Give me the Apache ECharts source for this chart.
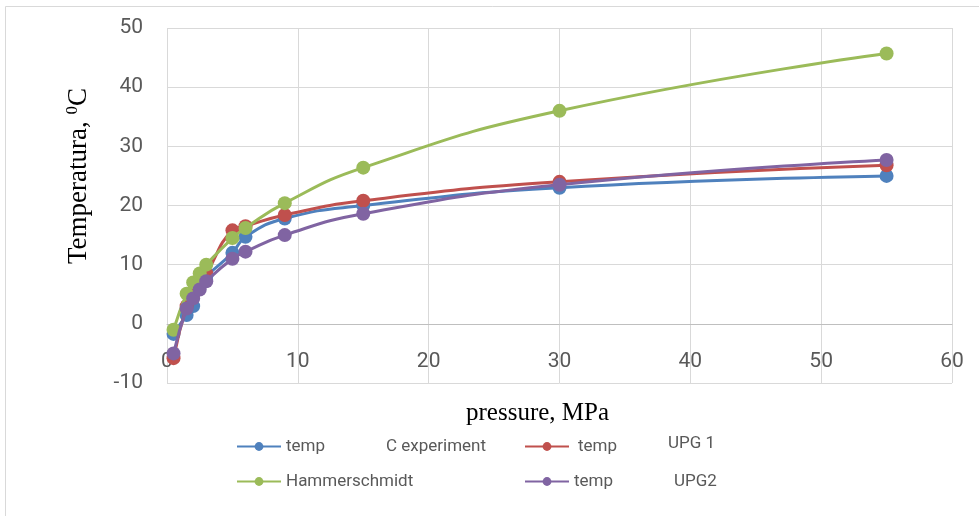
<!DOCTYPE html>
<html>
<head>
<meta charset="utf-8">
<script src="https://cdn.jsdelivr.net/npm/echarts@6/dist/echarts.min.js"></script>
<style>html,body{margin:0;padding:0;background:#fff}#c{width:979px;height:516px}</style>
</head>
<body>
<div id="c"></div>
<script>
var pressure = [0.5, 1.5, 2, 2.5, 3, 5, 6, 9, 15, 30, 55];
var tempExperiment = [-1.7, 1.5, 3, 6.5, 8, 12, 14.7, 17.8, 20, 23, 25];
var tempUPG1 = [-5.8, 3, 5, 7, 8.5, 15.8, 16.5, 18.4, 20.8, 24, 26.8];
var hammerschmidt = [-1, 5.1, 7, 8.5, 10, 14.5, 16.2, 20.4, 26.4, 36, 45.7];
var tempUPG2 = [-5, 2.6, 4.3, 5.8, 7.2, 11, 12.2, 15, 18.6, 23.5, 27.7];
var xTicks = [0, 10, 20, 30, 40, 50, 60];
var yTicks = [-10, 0, 10, 20, 30, 40, 50];

var seriesNames = ['temp C experiment', 'temp UPG 1', 'Hammerschmidt', 'temp UPG2'];
var colors = ['#4F81BD', '#C0504D', '#9BBB59', '#8064A2'];
var values = [tempExperiment, tempUPG1, hammerschmidt, tempUPG2];

function pairs(ys) { return pressure.map(function (p, i) { return [p, ys[i]]; }); }

var chart = echarts.init(document.getElementById('c'), null, {renderer: 'canvas'});
var LF = 17;
var legendFont = {color: '#595959', fontSize: LF, fontFamily: 'Roboto, sans-serif'};
function mkLegend(name, left, top, rich, fmt) {
  return {
    data: [name], left: left, top: top, itemWidth: 44, itemHeight: 11, itemGap: 0, padding: 0,
    textStyle: Object.assign({}, legendFont, {rich: rich}),
    formatter: function () { return fmt; },
    selectedMode: false
  };
}
function rs(extra) { return Object.assign({color: '#595959', fontSize: LF, fontFamily: 'Roboto, sans-serif'}, extra || {}); }
var option = {
  animation: false,
  backgroundColor: '#fff',
  grid: {left: 167, right: 27, top: 28, bottom: 133, containLabel: false},
  xAxis: {
    type: 'value', min: xTicks[0], max: xTicks[xTicks.length - 1], interval: 10,
    axisLine: {onZero: true, lineStyle: {color: '#bfbfbf', width: 1}},
    axisTick: {show: false},
    axisLabel: {color: '#595959', fontSize: 21, fontFamily: 'Roboto, sans-serif', margin: -32},
    splitLine: {show: true, lineStyle: {color: '#d9d9d9', width: 1}}
  },
  yAxis: {
    type: 'value', min: yTicks[0], max: yTicks[yTicks.length - 1], interval: 10,
    axisLine: {show: false},
    axisTick: {show: false},
    axisLabel: {color: '#595959', fontSize: 21, fontFamily: 'Roboto, sans-serif', margin: 24},
    splitLine: {show: true, lineStyle: {color: '#d9d9d9', width: 1}}
  },
  legend: [
    mkLegend(seriesNames[0], 236, 438, {a: rs({width: 100}), b: rs()}, '{a|temp}{b|C experiment}'),
    mkLegend(seriesNames[1], 524, 435, {a: rs({width: 90, padding: [0, 0, 0, 4]}), b: rs({padding: [0, 0, 6, 0]})}, '{a|temp}{b|UPG 1}'),
    mkLegend(seriesNames[2], 236, 473, {}, 'Hammerschmidt'),
    mkLegend(seriesNames[3], 524, 473, {a: rs({width: 100}), b: rs()}, '{a|temp}{b|UPG2}')
  ],
  series: seriesNames.map(function (n, i) {
    return {
      name: n, type: 'line', data: pairs(values[i]),
      smooth: 0.5,
      symbol: 'circle', symbolSize: 14,
      lineStyle: {color: colors[i], width: 3},
      itemStyle: {color: colors[i]},
      z: 2 + i
    };
  }),
  graphic: [
    {type: 'text', left: 466, top: 401, z: 10,
      style: {text: 'pressure, MPa', fill: '#000', font: '25px "Liberation Serif", serif'}},
    {type: 'rect', shape: {x: 200, y: 426, width: 600, height: 10}, style: {fill: '#fff'}, z: 11},
    {type: 'text', x: 64, y: 264, rotation: Math.PI / 2, z: 10,
      style: {text: '{a|Temperatura, }{s|0}{a|C}', fill: '#000',
        rich: {a: {fontSize: 27, fontFamily: '"Liberation Serif", serif', fill: '#000', verticalAlign: 'bottom'},
               s: {fontSize: 17, fontFamily: '"Liberation Serif", serif', fill: '#000', padding: [0, 0, 11, 0], verticalAlign: 'bottom'}}}},
    {type: 'rect', shape: {x: 5.5, y: 6.5, width: 980, height: 520}, style: {fill: 'none', stroke: '#d9d9d9', lineWidth: 1}, z: 0, silent: true}
  ]
};
chart.setOption(option);
</script>
</body>
</html>
